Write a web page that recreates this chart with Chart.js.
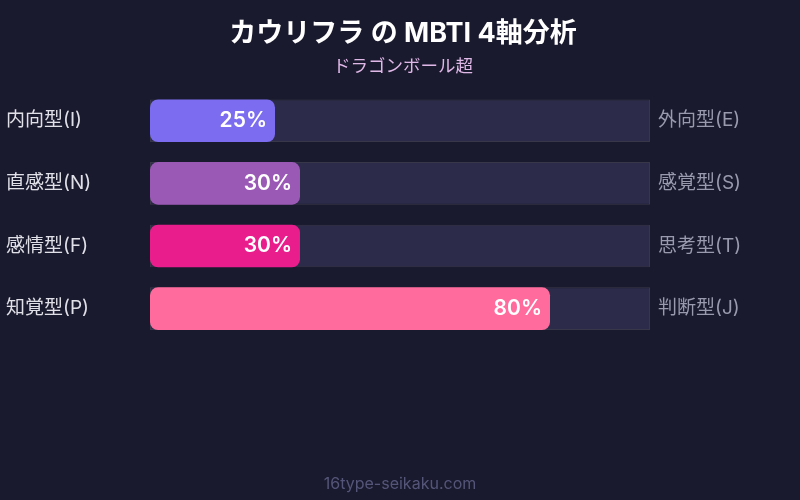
<!DOCTYPE html>
<html lang="ja">
<head>
<meta charset="utf-8">
<title>カウリフラ の MBTI 4軸分析</title>
<script src="https://cdn.jsdelivr.net/npm/chart.js@4.4.1/dist/chart.umd.min.js"></script>
<style>
  html, body { margin: 0; padding: 0; background: #1a1a2e; }
  #wrap { width: 800px; height: 500px; position: relative; }
</style>
</head>
<body>
<div id="wrap"><canvas id="mbtiChart"></canvas></div>
<script>
// データ
const leftLabels = ['内向型(I)', '直感型(N)', '感情型(F)', '知覚型(P)'];
const rightLabels = ['外向型(E)', '感覚型(S)', '思考型(T)', '判断型(J)'];
const scores = [25, 30, 30, 80];
const trackValues = [100, 100, 100, 100];
const barColors = ['#7b6cf0', '#9b59b6', '#e91e8c', '#ff6b9d'];

const fontFamily = "Inter, 'Noto Sans CJK JP', sans-serif";

// バーの中に % を描く
const valueLabels = {
    id: 'valueLabels',
    afterDatasetsDraw(chart) {
        const ctx = chart.ctx;
        const meta = chart.getDatasetMeta(0);
        ctx.save();
        ctx.fillStyle = '#ffffff';
        ctx.font = '600 21px ' + fontFamily;
        ctx.textAlign = 'right';
        ctx.textBaseline = 'middle';
        meta.data.forEach(function (bar, i) {
            ctx.fillText(scores[i] + '%', bar.x - 8, bar.y);
        });
        ctx.restore();
    }
};

// 下のサイト名
const footerText = {
    id: 'footerText',
    afterDraw(chart) {
        const ctx = chart.ctx;
        ctx.save();
        ctx.fillStyle = '#55557a';
        ctx.font = '16px ' + fontFamily;
        ctx.textAlign = 'center';
        ctx.textBaseline = 'middle';
        ctx.fillText('16type-seikaku.com', chart.width / 2, 484);
        ctx.restore();
    }
};

const ctx = document.getElementById('mbtiChart').getContext('2d');

new Chart(ctx, {
    type: 'bar',
    data: {
        labels: leftLabels,
        datasets: [{
            data: scores,
            backgroundColor: barColors,
            borderRadius: 8,
            borderSkipped: false,
            grouped: false,
            categoryPercentage: 1,
            barPercentage: 0.68
        }, {
            data: trackValues,
            backgroundColor: '#2d2b4a',
            borderColor: 'rgba(255, 255, 255, 0.13)',
            borderWidth: 1,
            borderSkipped: false,
            grouped: false,
            categoryPercentage: 1,
            barPercentage: 0.68
        }]
    },
    options: {
        indexAxis: 'y',
        responsive: true,
        maintainAspectRatio: false,
        animation: false,
        layout: {
            padding: { top: 18, left: 6, right: 0, bottom: 160 }
        },
        plugins: {
            legend: { display: false },
            tooltip: { enabled: false },
            title: {
                display: true,
                text: 'カウリフラ の MBTI 4軸分析',
                color: '#ffffff',
                font: { family: fontFamily, size: 27, weight: 'bold' },
                padding: { top: 0, bottom: 6 }
            },
            subtitle: {
                display: true,
                text: 'ドラゴンボール超',
                color: '#e0b8e8',
                font: { family: fontFamily, size: 17.5 },
                padding: { top: 0, bottom: 12 }
            }
        },
        scales: {
            x: {
                display: false,
                min: 0,
                max: 100
            },
            y: {
                position: 'left',
                grid: { display: false },
                border: { display: false },
                ticks: {
                    color: '#e0e0e8',
                    crossAlign: 'far',
                    padding: 0,
                    font: { family: fontFamily, size: 19 }
                },
                afterFit(scale) { scale.width = 144; }
            },
            y2: {
                type: 'category',
                labels: rightLabels,
                position: 'right',
                offset: true,
                grid: { display: false },
                border: { display: false },
                ticks: {
                    color: '#9a9aae',
                    crossAlign: 'near',
                    padding: 0,
                    font: { family: fontFamily, size: 19 }
                },
                afterFit(scale) { scale.width = 150; }
            }
        }
    },
    plugins: [valueLabels, footerText]
});
</script>
</body>
</html>
